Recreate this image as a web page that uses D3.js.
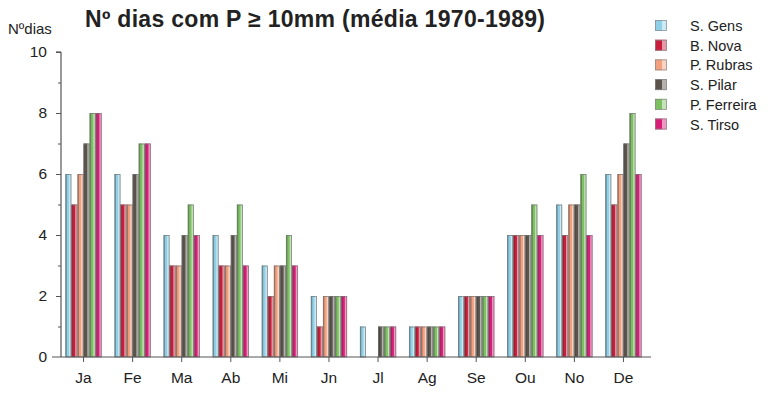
<!DOCTYPE html>
<html><head><meta charset="utf-8">
<script src="https://cdn.jsdelivr.net/npm/d3@7"></script>
<style>body{margin:0;background:#fff}svg{font-family:"Liberation Sans",Arial,sans-serif}</style>
</head><body><svg id="c" width="775" height="393"></svg>
<script>
const months = ["Ja","Fe","Ma","Ab","Mi","Jn","Jl","Ag","Se","Ou","No","De"];
const stations = ["S. Gens","B. Nova","P. Rubras","S. Pilar","P. Ferreira","S. Tirso"];
const colors = ["#8fd0e6","#c81e3c","#f2a07e","#5a544c","#7cc062","#d81f78"];
const sGens     = [6,6,4,4,3,2,1,1,2,4,5,6];
const bNova     = [5,5,3,3,2,1,0,1,2,4,4,5];
const pRubras   = [6,5,3,3,3,2,0,1,2,4,5,6];
const sPilar    = [7,6,4,4,3,2,1,1,2,4,5,7];
const pFerreira = [8,7,5,5,4,2,1,1,2,5,6,8];
const sTirso    = [8,7,4,3,3,2,1,1,2,4,4,6];
const series = [sGens,bNova,pRubras,sPilar,pFerreira,sTirso];
const yTicks = [0,2,4,6,8,10];

const svg = d3.select("#c");
const x = d3.scaleBand().domain(months).range([59,648]).paddingInner(0.26).paddingOuter(0.13);
const y = d3.scaleLinear().domain([0,10]).range([357,52]);
const xs = d3.scaleBand().domain(d3.range(stations.length)).range([0,x.bandwidth()]);

// bars
months.forEach((m,i)=>{
  series.forEach((s,k)=>{
    const v = s[i]; if(!v) return;
    const bx = x(m)+xs(k), bw = xs.bandwidth(), by = y(v), bh = y(0)-y(v);
    svg.append("rect").attr("x",bx).attr("y",by).attr("width",bw).attr("height",bh).attr("fill",colors[k]);
    svg.append("rect").attr("x",bx+bw*0.62).attr("y",by).attr("width",bw*0.38).attr("height",bh).attr("fill","#fff").attr("opacity",0.55);
    svg.append("rect").attr("x",bx).attr("y",by).attr("width",bw*0.25).attr("height",bh).attr("fill","#000").attr("opacity",0.25);
    svg.append("rect").attr("x",bx+0.5).attr("y",by+0.5).attr("width",bw-1).attr("height",bh-0.5).attr("fill","none").attr("stroke","#777").attr("stroke-width",0.7);
  });
});

// y axis
const ya = svg.append("g").attr("transform","translate(61,0)")
  .call(d3.axisLeft(y).tickValues(d3.range(0,11)).tickSize(5).tickFormat(d=>yTicks.includes(d)?d:""));
ya.select(".domain").attr("d",`M-5,${y(10)}H0V${y(0)}`).attr("stroke","#333");
ya.selectAll(".tick line").attr("stroke","#555").attr("x2",d=>d%2===0?-5:-3);
ya.selectAll(".tick text").attr("font-size",15.5).attr("fill","#222").attr("x",-14).attr("font-family","Liberation Sans, Arial, sans-serif");
ya.selectAll(".tick").filter(d=>d===0).select("line").remove();

// x axis
const xa = svg.append("g").attr("transform",`translate(0,${y(0)})`)
  .call(d3.axisBottom(x).tickSize(5).tickPadding(10));
xa.select(".domain").attr("d",`M52,0H651`).attr("stroke","#555");
xa.selectAll(".tick line").attr("stroke","#555");
xa.selectAll(".tick text").attr("font-size",15.5).attr("fill","#222").attr("font-family","Liberation Sans, Arial, sans-serif");

// title
svg.append("text").attr("x",85).attr("y",27).attr("font-size",23).attr("font-weight","bold").attr("fill","#222")
  .attr("textLength",460).attr("lengthAdjust","spacing")
  .text("Nº dias com P ≥ 10mm (média 1970-1989)");
svg.append("text").attr("x",8).attr("y",34).attr("font-size",15).attr("fill","#222").text("Nºdias");

// legend
const lg = svg.append("g");
stations.forEach((s,k)=>{
  const ly = 20 + k*19.7;
  lg.append("rect").attr("x",655).attr("y",ly).attr("width",12).attr("height",11).attr("fill",colors[k]);
  lg.append("rect").attr("x",662).attr("y",ly).attr("width",5).attr("height",11).attr("fill","#fff").attr("opacity",0.55);
  lg.append("rect").attr("x",655.5).attr("y",ly+0.5).attr("width",11).attr("height",10).attr("fill","none").attr("stroke","#888").attr("stroke-width",0.7);
  lg.append("text").attr("x",690).attr("y",ly+11).attr("font-size",14.5).attr("fill","#222").text(s);
});
</script></body></html>
